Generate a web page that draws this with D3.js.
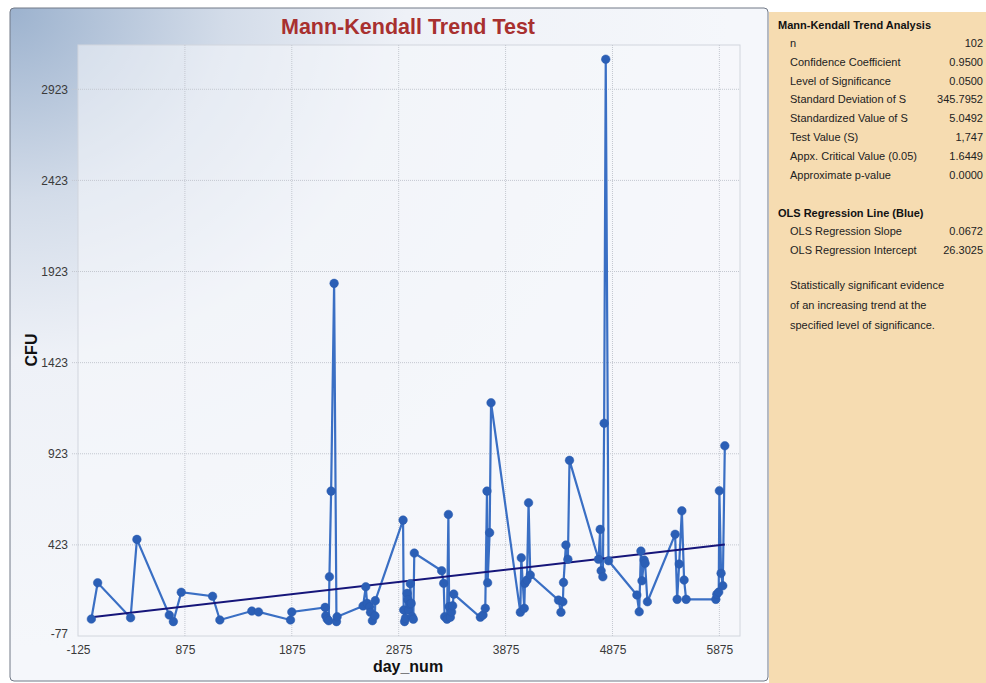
<!DOCTYPE html>
<html>
<head>
<meta charset="utf-8">
<script src="https://cdn.jsdelivr.net/npm/d3@7"></script>
<style>
  body { margin: 0; background: #ffffff; }
  svg text { font-family: "Liberation Sans", Arial, sans-serif; }
</style>
</head>
<body>
<div id="chart"></div>
<script>
// observations, sorted by day
var dayNum = [0, 59, 367, 426, 729, 767, 841, 1134, 1202, 1501, 1564, 1863, 1875,
  2187, 2193, 2206, 2221, 2227, 2243, 2271, 2293, 2299,
  2542, 2567, 2580, 2604, 2611, 2629, 2653, 2656,
  2916, 2922, 2930, 2938, 2954, 2960, 2969, 2978, 2984, 2992, 3000, 3012, 3021,
  3277, 3296, 3305, 3327, 3340, 3347, 3358, 3370, 3380, 3390,
  3639, 3664, 3685, 3701, 3707, 3726, 3739,
  4013, 4022, 4050, 4056, 4075, 4090, 4106,
  4370, 4393, 4411, 4417, 4439, 4458, 4473,
  4744, 4760, 4769, 4785, 4797, 4812, 4838,
  5103, 5125, 5141, 5151, 5171, 5180, 5202,
  5461, 5480, 5499, 5524, 5545, 5564,
  5842, 5851, 5869, 5875, 5891, 5907, 5926]
var cfu = [16, 215, 23, 453, 38, 2, 163, 141, 11, 60, 55, 11, 55,
  80, 34, 16, 7, 248, 718, 1858, 2, 29,
  88, 193, 102, 83, 53, 7, 34, 117,
  559, 66, 2, 20, 157, 122, 66, 98, 210, 102, 30, 15, 378,
  281, 212, 29, 15, 590, 84, 26, 55, 89, 153,
  26, 38, 75, 718, 215, 490, 1203,
  53, 352, 75, 212, 230, 654, 258,
  120, 53, 111, 217, 422, 344, 887,
  344, 508, 281, 248, 1090, 3088, 336,
  148, 56, 389, 226, 340, 322, 111,
  481, 124, 318, 610, 230, 124,
  124, 152, 164, 720, 267, 199, 967]

var xTicks = [-125, 875, 1875, 2875, 3875, 4875, 5875]
var yTicks = [-77, 423, 923, 1423, 1923, 2423, 2923]

var olsSlope = 0.0672, olsIntercept = 26.3025

var mkLabels = ["n", "Confidence Coefficient", "Level of Significance", "Standard Deviation of S",
  "Standardized Value of S", "Test Value (S)", "Appx. Critical Value (0.05)", "Approximate p-value"]
var mkValues = ["102", "0.9500", "0.0500", "345.7952", "5.0492", "1,747", "1.6449", "0.0000"]
var olsLabels = ["OLS Regression Slope", "OLS Regression Intercept"]
var olsValues = ["0.0672", "26.3025"]
var noteLines = ["Statistically significant evidence", "of an increasing trend at the",
  "specified level of significance."]

var W = 986, H = 683
var plot = {left: 78, right: 740, top: 45, bottom: 636}

var svg = d3.select("#chart").append("svg")
    .attr("width", W)
    .attr("height", H)

var defs = svg.append("defs")
var grad = defs.append("radialGradient")
    .attr("id", "bg")
    .attr("cx", "0%").attr("cy", "0%").attr("r", "95%")
    .attr("gradientUnits", "objectBoundingBox")
grad.append("stop").attr("offset", "0%").attr("stop-color", "#9cb2ce")
grad.append("stop").attr("offset", "30%").attr("stop-color", "#d3dce9")
grad.append("stop").attr("offset", "55%").attr("stop-color", "#eef1f7")
grad.append("stop").attr("offset", "100%").attr("stop-color", "#f5f7fb")

// chart frame
svg.append("rect")
    .attr("x", 10).attr("y", 8)
    .attr("width", 758).attr("height", 673)
    .attr("rx", 4)
    .attr("fill", "url(#bg)")
    .attr("stroke", "#707886")

// side panel
svg.append("rect")
    .attr("x", 769).attr("y", 12)
    .attr("width", W - 769).attr("height", H - 12)
    .attr("fill", "#f6dcb1")

// plot area
svg.append("rect")
    .attr("x", plot.left).attr("y", plot.top)
    .attr("width", plot.right - plot.left).attr("height", plot.bottom - plot.top)
    .attr("fill", "#f5f7fb")
    .attr("fill-opacity", 0.55)
    .attr("stroke", "#d2d6dd")

var x = d3.scaleLinear().domain([-125, 6068]).range([plot.left, plot.right])
var y = d3.scaleLinear().domain([-77, 3166]).range([plot.bottom, plot.top])

// grid
svg.append("g").selectAll("line")
    .data(xTicks.slice(1))
    .enter().append("line")
    .attr("x1", d => x(d)).attr("x2", d => x(d))
    .attr("y1", plot.top).attr("y2", plot.bottom)
    .attr("stroke", "#c4c8d0")
    .attr("stroke-dasharray", "1,1")

svg.append("g").selectAll("line")
    .data(yTicks.slice(1))
    .enter().append("line")
    .attr("x1", plot.left - 6).attr("x2", plot.right)
    .attr("y1", d => y(d)).attr("y2", d => y(d))
    .attr("stroke", "#c4c8d0")
    .attr("stroke-dasharray", "1,1")

// axes
var xAxis = svg.append("g")
    .attr("transform", "translate(0," + plot.bottom + ")")
    .call(d3.axisBottom(x).tickValues(xTicks).tickSize(0).tickPadding(9).tickFormat(d => String(d)))
xAxis.select(".domain").remove()
xAxis.selectAll("text").attr("font-size", 12).attr("fill", "#3a3a3a")
    .attr("font-family", "Liberation Sans, Arial, sans-serif")

var yAxis = svg.append("g")
    .attr("transform", "translate(" + (plot.left - 10) + ",0)")
    .call(d3.axisLeft(y).tickValues(yTicks).tickSize(0).tickPadding(0).tickFormat(d => String(d)))
yAxis.select(".domain").remove()
yAxis.selectAll("text").attr("font-size", 12).attr("fill", "#3a3a3a")
    .attr("font-family", "Liberation Sans, Arial, sans-serif")
yAxis.selectAll(".tick").filter(d => d === -77).select("text").attr("dy", "0.1em")

// titles
svg.append("text")
    .attr("x", 408).attr("y", 34)
    .attr("text-anchor", "middle")
    .attr("font-size", 21.5).attr("font-weight", "bold")
    .attr("fill", "#a8302f")
    .text("Mann-Kendall Trend Test")

svg.append("text")
    .attr("x", 408).attr("y", 672)
    .attr("text-anchor", "middle")
    .attr("font-size", 16).attr("font-weight", "bold")
    .attr("fill", "#111")
    .text("day_num")

svg.append("text")
    .attr("transform", "translate(37,350) rotate(-90)")
    .attr("text-anchor", "middle")
    .attr("font-size", 16).attr("font-weight", "bold")
    .attr("fill", "#111")
    .text("CFU")

// series
var pts = dayNum.map((d, i) => ({day: d, val: cfu[i]}))

svg.append("path")
    .datum(pts)
    .attr("fill", "none")
    .attr("stroke", "#3a6fc4")
    .attr("stroke-width", 2.2)
    .attr("d", d3.line().x(d => x(d.day)).y(d => y(d.val)))

// OLS regression line
var xr = d3.extent(dayNum)
svg.append("line")
    .attr("x1", x(xr[0])).attr("y1", y(olsIntercept + olsSlope * xr[0]))
    .attr("x2", x(xr[1])).attr("y2", y(olsIntercept + olsSlope * xr[1]))
    .attr("stroke", "#16167a")
    .attr("stroke-width", 2)

svg.append("g").selectAll("circle")
    .data(pts)
    .enter().append("circle")
    .attr("cx", d => x(d.day))
    .attr("cy", d => y(d.val))
    .attr("r", 4.3)
    .attr("fill", "#2b5fb6")
    .attr("stroke", "#2a5aad")
    .attr("stroke-width", 0.5)

// stats panel
var panel = svg.append("g")

panel.append("text")
    .attr("x", 778).attr("y", 29)
    .attr("font-size", 11).attr("font-weight", "bold")
    .attr("fill", "#111")
    .text("Mann-Kendall Trend Analysis")

mkLabels.forEach(function(l, i) {
  var yy = 47 + i * 18.8
  panel.append("text").attr("x", 790).attr("y", yy)
      .attr("font-size", 11).attr("fill", "#222").text(l)
  panel.append("text").attr("x", 983).attr("y", yy)
      .attr("text-anchor", "end")
      .attr("font-size", 11).attr("fill", "#222").text(mkValues[i])
})

panel.append("text")
    .attr("x", 778).attr("y", 217)
    .attr("font-size", 11).attr("font-weight", "bold")
    .attr("fill", "#111")
    .text("OLS Regression Line (Blue)")

olsLabels.forEach(function(l, i) {
  var yy = 235 + i * 18.8
  panel.append("text").attr("x", 790).attr("y", yy)
      .attr("font-size", 11).attr("fill", "#222").text(l)
  panel.append("text").attr("x", 983).attr("y", yy)
      .attr("text-anchor", "end")
      .attr("font-size", 11).attr("fill", "#222").text(olsValues[i])
})

noteLines.forEach(function(l, i) {
  panel.append("text").attr("x", 790).attr("y", 289 + i * 20)
      .attr("font-size", 11).attr("fill", "#222").text(l)
})
</script>
</body>
</html>
